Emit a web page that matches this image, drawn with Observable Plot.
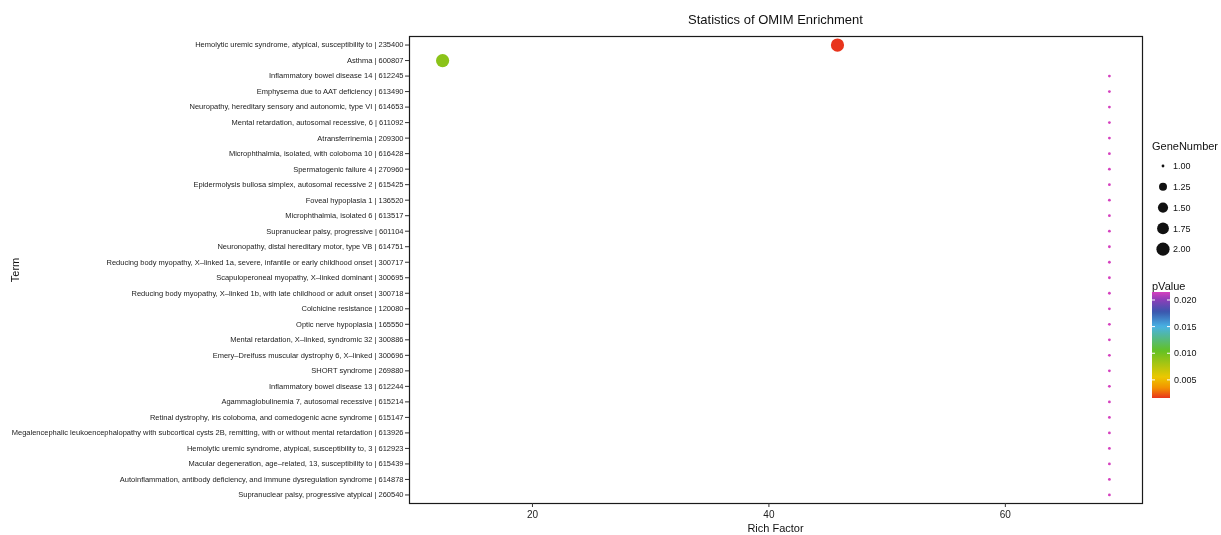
<!DOCTYPE html>
<html>
<head>
<meta charset="utf-8">
<script src="https://cdn.jsdelivr.net/npm/d3@7"></script>
<script src="https://cdn.jsdelivr.net/npm/@observablehq/plot@0.6"></script>
<style>
  html, body { margin: 0; padding: 0; background: #fff; }
  #chart { width: 1221px; height: 535px; }
  #chart svg { will-change: transform; }
</style>
</head>
<body>
<div id="chart"></div>
<script>
const terms = [
  "Hemolytic uremic syndrome, atypical, susceptibility to | 235400",
  "Asthma | 600807",
  "Inflammatory bowel disease 14 | 612245",
  "Emphysema due to AAT deficiency | 613490",
  "Neuropathy, hereditary sensory and autonomic, type VI | 614653",
  "Mental retardation, autosomal recessive, 6 | 611092",
  "Atransferrinemia | 209300",
  "Microphthalmia, isolated, with coloboma 10 | 616428",
  "Spermatogenic failure 4 | 270960",
  "Epidermolysis bullosa simplex, autosomal recessive 2 | 615425",
  "Foveal hypoplasia 1 | 136520",
  "Microphthalmia, isolated 6 | 613517",
  "Supranuclear palsy, progressive | 601104",
  "Neuronopathy, distal hereditary motor, type VB | 614751",
  "Reducing body myopathy, X\u2013linked 1a, severe, infantile or early childhood onset | 300717",
  "Scapuloperoneal myopathy, X\u2013linked dominant | 300695",
  "Reducing body myopathy, X\u2013linked 1b, with late childhood or adult onset | 300718",
  "Colchicine resistance | 120080",
  "Optic nerve hypoplasia | 165550",
  "Mental retardation, X\u2013linked, syndromic 32 | 300886",
  "Emery\u2013Dreifuss muscular dystrophy 6, X\u2013linked | 300696",
  "SHORT syndrome | 269880",
  "Inflammatory bowel disease 13 | 612244",
  "Agammaglobulinemia 7, autosomal recessive | 615214",
  "Retinal dystrophy, iris coloboma, and comedogenic acne syndrome | 615147",
  "Megalencephalic leukoencephalopathy with subcortical cysts 2B, remitting, with or without mental retardation | 613926",
  "Hemolytic uremic syndrome, atypical, susceptibility to, 3 | 612923",
  "Macular degeneration, age\u2013related, 13, susceptibility to | 615439",
  "Autoinflammation, antibody deficiency, and immune dysregulation syndrome | 614878",
  "Supranuclear palsy, progressive atypical | 260540"
];
const richFactor = [45.8, 12.4, 68.8, 68.8, 68.8, 68.8, 68.8, 68.8, 68.8, 68.8,
  68.8, 68.8, 68.8, 68.8, 68.8, 68.8, 68.8, 68.8, 68.8, 68.8,
  68.8, 68.8, 68.8, 68.8, 68.8, 68.8, 68.8, 68.8, 68.8, 68.8];
const geneNumber = [2, 2, 1, 1, 1, 1, 1, 1, 1, 1,
  1, 1, 1, 1, 1, 1, 1, 1, 1, 1,
  1, 1, 1, 1, 1, 1, 1, 1, 1, 1];
const pValue = [0.0016, 0.0090, 0.0215, 0.0215, 0.0215, 0.0215, 0.0215, 0.0215, 0.0215, 0.0215,
  0.0215, 0.0215, 0.0215, 0.0215, 0.0215, 0.0215, 0.0215, 0.0215, 0.0215, 0.0215,
  0.0215, 0.0215, 0.0215, 0.0215, 0.0215, 0.0215, 0.0215, 0.0215, 0.0215, 0.0215];
const xTicks = [20, 40, 60];
const sizeLegendValues = [1.00, 1.25, 1.50, 1.75, 2.00];
const pLegendValues = [0.020, 0.015, 0.010, 0.005];
const colorStops = [0.0016, 0.0035, 0.0055, 0.0105, 0.0150, 0.0178, 0.0200, 0.0215];
const colorRange = ["#e8341c", "#f39200", "#ecc800", "#62c124", "#48b2e4", "#3a56ad", "#8a3fb8", "#d540bf"];

const data = terms.map((t, i) => ({term: t, rich: richFactor[i], gene: geneNumber[i], p: pValue[i]}));

const W = 1221, H = 535;
const font = "'Liberation Sans', Arial, Helvetica, sans-serif";

const chart = Plot.plot({
  width: W,
  height: H,
  marginLeft: 409,
  marginRight: 79,
  marginTop: 36,
  marginBottom: 32,
  style: {fontFamily: font, background: "#fff", color: "#222", overflow: "visible"},
  x: {domain: [9.6, 71.6]},
  y: {type: "point", domain: terms, padding: 0.55, round: false},
  r: {type: "linear", transform: v => Math.sqrt(v - 1), domain: [0, 1], range: [1.4, 6.6]},
  color: {type: "linear", domain: colorStops, range: colorRange, interpolate: "rgb"},
  marks: [
    Plot.frame({stroke: "#1a1a1a", strokeWidth: 1.2}),
    Plot.axisX({ticks: xTicks, tickSize: 4, tickPadding: 3, fontSize: 10, label: null, stroke: "#333"}),
    Plot.axisY({tickSize: 4, tickPadding: 2, fontSize: 7.5, label: null, stroke: "#333"}),
    Plot.dot(data, {x: "rich", y: "term", r: "gene", fill: "p", stroke: null})
  ]
});

document.getElementById("chart").appendChild(chart);

const svg = d3.select(chart);
const cx = (409 + (W - 79)) / 2;

// Title and axis titles
svg.append("text").attr("x", cx).attr("y", 24).attr("text-anchor", "middle")
  .attr("font-family", font).attr("font-size", 13).attr("fill", "#111")
  .text("Statistics of OMIM Enrichment");
svg.append("text").attr("x", cx).attr("y", 532).attr("text-anchor", "middle")
  .attr("font-family", font).attr("font-size", 11).attr("fill", "#111")
  .text("Rich Factor");
svg.append("text").attr("transform", "translate(19,270) rotate(-90)").attr("text-anchor", "middle")
  .attr("font-family", font).attr("font-size", 11).attr("fill", "#111")
  .text("Term");

// Size legend (GeneNumber)
const rScale = chart.scale("r");
const rApply = v => (rScale.transform ? (rScale.range[0] + (rScale.range[1] - rScale.range[0]) * (rScale.transform(v) - rScale.domain[0]) / (rScale.domain[1] - rScale.domain[0])) : rScale.apply(v));
const lg = svg.append("g").attr("font-family", font).attr("fill", "#111").attr("text-anchor", "start");
lg.append("text").attr("x", 1152).attr("y", 150).attr("font-size", 11).attr("text-anchor", "start").text("GeneNumber");
sizeLegendValues.forEach((v, i) => {
  const y = 166 + i * 20.8;
  lg.append("circle").attr("cx", 1163).attr("cy", y).attr("r", rApply(v)).attr("fill", "#111");
  lg.append("text").attr("x", 1173).attr("y", y + 3.2).attr("font-size", 9).attr("text-anchor", "start").text(v.toFixed(2));
});

// Color legend (pValue)
const cScale = Plot.scale({color: {type: "linear", domain: colorStops, range: colorRange, interpolate: "rgb"}});
const pMin = colorStops[0], pMax = colorStops[colorStops.length - 1];
const barTop = 292, barBot = 398, barX = 1152, barW = 18;
const py = v => barBot - (v - pMin) / (pMax - pMin) * (barBot - barTop);
const defs = svg.append("defs");
const grad = defs.append("linearGradient").attr("id", "pgrad").attr("x1", 0).attr("y1", 1).attr("x2", 0).attr("y2", 0);
d3.range(0, 1.0001, 0.02).forEach(t => {
  grad.append("stop").attr("offset", t).attr("stop-color", cScale.apply(pMin + t * (pMax - pMin)));
});
lg.append("text").attr("x", 1152).attr("y", 290).attr("font-size", 11).attr("text-anchor", "start").text("pValue");
lg.append("rect").attr("x", barX).attr("y", barTop).attr("width", barW).attr("height", barBot - barTop).attr("fill", "url(#pgrad)");
pLegendValues.forEach(v => {
  const y = py(v);
  lg.append("line").attr("x1", barX).attr("x2", barX + 3).attr("y1", y).attr("y2", y).attr("stroke", "#fff");
  lg.append("line").attr("x1", barX + barW - 3).attr("x2", barX + barW).attr("y1", y).attr("y2", y).attr("stroke", "#fff");
  lg.append("text").attr("x", 1174).attr("y", y + 3.2).attr("font-size", 9).attr("text-anchor", "start").text(v.toFixed(3));
});
</script>
</body>
</html>
